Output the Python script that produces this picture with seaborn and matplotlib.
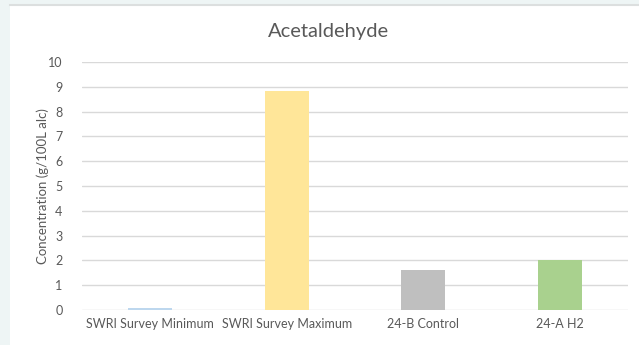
import matplotlib
matplotlib.use("Agg")
import matplotlib.pyplot as plt
import seaborn as sns
import pandas as pd

categories = ["SWRI Survey Minimum", "SWRI Survey Maximum", "24-B Control", "24-A H2"]
values = [0.1, 8.85, 1.6, 2.0]
colors = ["#bdd7ee", "#ffe699", "#bfbfbf", "#a9d18e"]
yticks = list(range(0, 11))

df = pd.DataFrame({"sample": categories, "conc": values})

sns.set_theme(style="white")
plt.rcParams["font.family"] = ["Lato", "DejaVu Sans"]

fig = plt.figure(figsize=(6.39, 3.45), dpi=100)
fig.patch.set_facecolor("#eef5f5")

# white chart panel behind the plot, with a thin grey top border
panel = fig.add_axes([10 / 639, 0, 1 - 10 / 639, 1 - 5 / 345], zorder=-1)
panel.set_facecolor("white")
panel.set_xticks([])
panel.set_yticks([])
for name, s in panel.spines.items():
    s.set_visible(name == "top")
panel.spines["top"].set_color("#dcdfdf")
panel.spines["top"].set_linewidth(1.5)

ax = fig.add_axes([82 / 639, 1 - 310 / 345, (628 - 82) / 639, (310 - 62) / 345])
ax.set_facecolor("none")

sns.barplot(data=df, x="sample", y="conc", hue="sample", palette=colors,
            width=0.32, legend=False, ax=ax, zorder=3, saturation=1,
            edgecolor="none", linewidth=0)

ax.set_xlim(-0.5, 3.5)
ax.set_ylim(0, 10)
ax.set_yticks(yticks)
ax.yaxis.grid(True, color="#d9d9d9", lw=1, zorder=0)
ax.xaxis.grid(False)
for s in ax.spines.values():
    s.set_visible(False)
ax.tick_params(axis="both", length=0, labelsize=9, colors="#595959", pad=6)
ax.tick_params(axis="y", pad=14)
ax.set_xlabel("")
ax.set_ylabel("Concentration (g/100L alc)", fontsize=9.5, color="#595959")
ax.yaxis.set_label_coords(-0.061, 0.5)

# chart title centred over the whole panel
fig.text(328 / 639, 1 - 32 / 345, "Acetaldehyde", fontsize=14.5, color="#595959",
         ha="center", va="center")

fig.savefig("out.png", dpi=100, facecolor=fig.get_facecolor())
